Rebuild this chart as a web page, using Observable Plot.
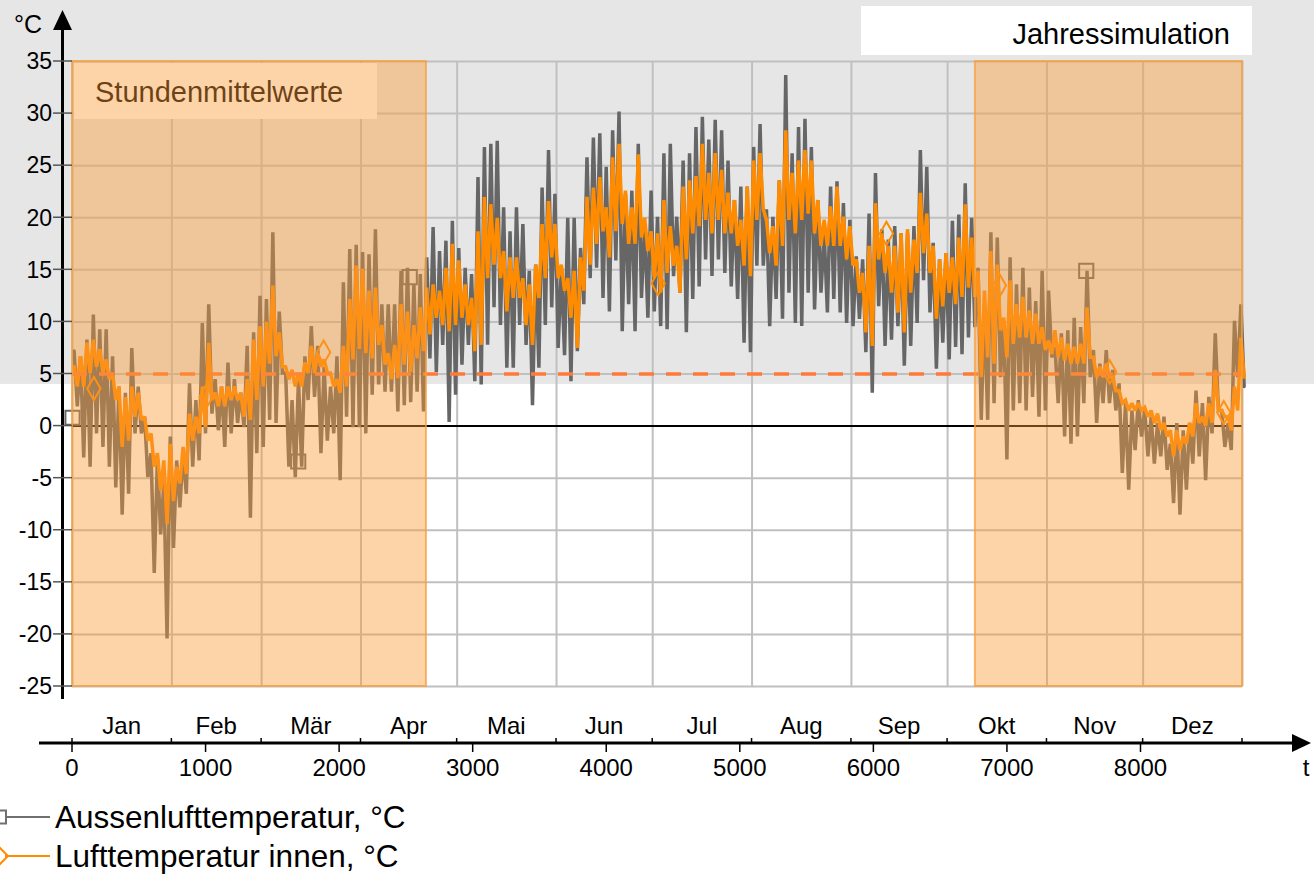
<!DOCTYPE html>
<html><head><meta charset="utf-8">
<script src="https://cdn.jsdelivr.net/npm/d3@7"></script>
<script src="https://cdn.jsdelivr.net/npm/@observablehq/plot@0.6"></script>
<style>
html,body{margin:0;padding:0;background:#fff;}
body{width:1314px;height:874px;overflow:hidden;font-family:"Liberation Sans",Arial,sans-serif;}
#chart svg,#legend svg{display:block;}
</style></head><body>
<div id="chart"></div>
<div id="legend"></div>
<script>
// ---- Daten (2-Tages-Schritte: Maximum / Minimum) ----
const schritt = 48; // Stunden je Wert-Paar
const aussenHoch = [
 7.2, 6.7, 8.3, 10.7, 9.3, 9.3, 6.7, 3.8, 3.2, 7.5,
 3.8, 0.9, -2.6, -3, -5.5, -1, -3.3, -2.6, 4.1, 2.5,
 9.9, 11.7, 4.5, 3.8, 6.1, 4.5, 3.2, 7.7, 9, 12.5,
 12.2, 18.6, 11, 5.1, 2.5, 4.5, 6.7, 9.6, 7.7, 5.7,
 3.8, 6.7, 13.8, 17, 17.4, 16.7,
 16.5, 18.9, 11.7, 11.7, 11.7, 14.9, 15.2, 13.6, 14.6, 16.2,
 19.1, 16.8, 17.8, 19.7, 17.1, 15.2, 14.6, 23.9, 26.8, 27.1,
 27.4, 21, 18.7, 21, 19.4, 14.9, 15.5, 22.9, 26.5, 22.3,
 15.2, 20, 20, 17.1, 25.8, 27.7, 28.1, 24.9, 28.4, 30.2,
 22.3, 22.6, 27.1, 19.4, 22.6,
 20.1, 26.2, 27.1, 20.1, 25.5, 26.2, 28.7, 29.7, 27.5, 29.4,
 28.4, 25.5, 21.7, 23, 23, 26.8, 29, 20.8, 20.1, 23.6,
 33.7, 26.2, 28.7, 29.5, 26.8, 21.7, 18.5, 23, 23.5, 21.4,
 19.8, 16.3, 16, 20.4, 24.3, 18.9, 17.9, 19.2, 18.5, 18.5,
 19.2, 26.5, 24.9, 17.6, 16, 16.6,
 19.7, 20.3, 23.3, 20, 15.2, 11.7, 18.6, 18.1, 10.1, 16.2,
 13.6, 15.2, 13.3, 12, 14.9, 13, 7.6, 8.9, 9.2, 10.4,
 9.5, 14.9, 7.3, 6, 7.3, 5.4, 4.1, 2.2, 1.5, 2.5,
 1.5, 0.9, 0.3, 0.9, -1.7, 0.3, -0.4, 0.3, 3.4, 2.2,
 2.8, 8.9, 1.5, 0.3, 10.1, 11.7
];
const aussenTief = [
 1.9, -3, -3.9, -0.7, -2, -3.9, -5.9, -8.5, -6.5, -0.7,
 -0.7, -4.9, -14.1, -10.4, -20.4, -11.7, -7.8, -6.5, -3.9, -3.3,
 -0.7, 1.2, -0.4, -2, -0.7, 0.3, -0.1, -8.8, -2.6, -2,
 0.6, 0.3, 5.1, -3.9, -4.9, -3.9, 2.5, 2.8, -2.6, -1.4,
 -0.7, -5.2, 0.9, -0.1, -0.1, -0.7,
 3, 4, 3.3, 3.3, 1.4, 2, 2.3, 3.3, 1.4, 6.5,
 5.2, 7.8, 0.4, 3, 5.9, 7.8, 4.3, 4, 7.8, 11.4,
 9.7, 5.6, 5.6, 9.7, 7.8, 2, 5.6, 9.7, 11.4, 7.5,
 6.8, 4.3, 7.2, 11.7, 14.2, 15.2, 12.3, 11, 15.9, 9.1,
 11.7, 9.1, 12.3, 10.4, 11,
 9.6, 9.3, 14.4, 12.8, 9, 12.2, 13.4, 16, 14.4, 16,
 14.7, 13.4, 12.2, 8, 7.1, 15.4, 15.4, 9.6, 12.2, 10.3,
 12.8, 9.9, 9.6, 12.8, 11.2, 12.8, 10.9, 12.2, 10.9, 9.9,
 9.6, 10.3, 7.1, 3.2, 11.5, 7.7, 8.3, 9.6, 5.8, 7.7,
 9.9, 14, 10.9, 5.5, 8, 6.4,
 7.6, 6.9, 8.5, 9.5, 0.6, 0.6, 2.2, 4.7, -3.2, 1.5,
 2.2, 1.5, 2.8, 0.9, 1.5, 6.6, 2.2, -1, -1.7, -1,
 2.2, 4.7, 0.3, 2.2, 2.2, 1.5, -4.5, -6.1, -2.3, -1,
 -2.9, -3.6, -2.9, -4.2, -7.4, -8.5, -6.1, -3.6, -2.9, -5.2,
 -0.7, 1.5, -2, -2.3, 4.7, 3.8
];
const innenHoch = [
 5.7, 6.7, 8, 8.3, 7.4, 6.4, 5.1, 3.8, 2.8, 3.8,
 3.2, 0.9, -0.7, -2.6, -3.3, -1.7, -3.9, -2, 1.2, 0.9,
 3.8, 8, 3.2, 3.8, 3.8, 3.8, 3.2, 4.5, 8.3, 9.6,
 10, 13.5, 9, 5.7, 5.4, 5.1, 6.1, 7.7, 7, 6.4,
 5.1, 4.5, 7.7, 12.2, 15.4, 15.1,
 13, 13.3, 9.7, 7, 7.8, 11.7, 11, 9.7, 11.4, 13.3,
 13.6, 13, 15.2, 17.5, 15.9, 13.6, 12.3, 18.7, 22, 21.3,
 20, 16.8, 16.2, 16.2, 14.2, 13.6, 15.5, 19.4, 21.6, 19.4,
 15.5, 14.2, 14.9, 16.2, 22, 22.9, 23.9, 21, 25.8, 27.1,
 22.6, 21, 26.1, 20, 18.7,
 18.5, 21.7, 19.2, 17.3, 23, 23.6, 24, 27.1, 24.3, 26.2,
 24.6, 22.4, 21.7, 19.8, 23, 25.5, 26.2, 19.8, 19.2, 23.6,
 28.4, 24.3, 25.5, 26.5, 25.5, 21.7, 19.8, 21.1, 23, 20.1,
 19.2, 16, 14.7, 17.3, 21.4, 18.5, 17.3, 17.3, 18.5, 18.9,
 17.9, 22.4, 20.4, 17.3, 16, 16.6,
 16.2, 18.1, 21.3, 18.1, 14.9, 13, 16.8, 15.5, 10.4, 14,
 11.7, 12.4, 11.1, 10.8, 9.5, 8.2, 9.2, 8.5, 7.9, 7.6,
 7.9, 11.4, 6.6, 5.7, 6, 4.7, 3.4, 2.5, 2.2, 2.2,
 1.8, 1.5, 1.2, 0.3, -0.4, -0.4, -1, 0.3, 2.2, 0.9,
 2.2, 5.4, 1.5, 0.9, 3.8, 8.5
];
const innenTief = [
 3.8, 3.8, 5.1, 5.7, 5.1, 4.5, 2.5, -2, -1.4, 0.9,
 0.6, -1.4, -3.9, -6.2, -9.4, -7.2, -5.5, -4.6, -1.4, -0.7,
 -0.1, 2.5, 1.9, 1.9, 2.5, 2.5, 0.9, 0.6, 2.5, 3.8,
 6, 6.7, 5.7, 4.5, 3.8, 3.8, 5.1, 5.1, 5.7, 5.1,
 3.8, 3.2, 3.8, 6.4, 7.4, 7,
 6.5, 7.8, 5.9, 4.5, 4.6, 5.9, 5.2, 6.5, 7.2, 8.8,
 10.4, 9.7, 9.1, 9.7, 10.4, 9.7, 7.2, 7.8, 14.2, 15.5,
 14.2, 11, 12.3, 12.3, 9.7, 7.8, 12.3, 14.2, 16.2, 14.2,
 13, 10.4, 7.5, 13, 15.5, 17.5, 18.7, 16.2, 18.7, 19.4,
 17.5, 17.5, 18.1, 16.8, 14.2,
 12.8, 14.7, 15.4, 12.8, 16, 18.5, 19.2, 19.8, 18.5, 19.8,
 18.5, 18.5, 17.3, 15.4, 14.4, 19.8, 20.8, 16.6, 15.4, 17.3,
 19.8, 18.5, 19.8, 20.4, 18.5, 17.3, 17.3, 17.3, 17.3, 16,
 15.4, 12.8, 9, 7.7, 16, 14.7, 12.8, 10.9, 9, 12.8,
 14.7, 16.6, 14.7, 10.3, 11.5, 12.8,
 11.7, 12.4, 13.3, 12.4, 4.7, 6.6, 6, 9.2, 6.6, 7.9,
 8.5, 8.5, 7.9, 7.9, 7.3, 6.9, 6.6, 6.3, 6, 6,
 6, 6.6, 4.7, 4.7, 4.7, 3.4, 2.2, 1.5, 1.5, 1.5,
 0.9, 0.3, -0.4, -1, -2.9, -2.3, -1.7, -1, 0.3, 0,
 0.3, 1.5, 0.9, -0.4, 1.5, 4.7
];
// Markierungen der Reihen
const aussenMarkerT = [0, 1690, 2525, 7590];
const aussenMarkerW = [0.8, -3.4, 14.3, 14.9];
const innenMarkerT = [160, 1000, 1880, 4385, 6094, 6940, 7766, 8620];
const innenMarkerW = [3.6, 2.8, 7.1, 13.7, 18.5, 13.5, 5.2, 1.3];
// Achsen / Kategorien
const monate = ["Jan","Feb","Mär","Apr","Mai","Jun","Jul","Aug","Sep","Okt","Nov","Dez"];
const monatsGrenzen = [0,744,1416,2160,2880,3624,4344,5088,5832,6552,7296,8016,8760];
const xTicks = [0,1000,2000,3000,4000,5000,6000,7000,8000];
const yTicks = [-25,-20,-15,-10,-5,0,5,10,15,20,25,30,35];
const heizVon = [0, 6760];
const heizBis = [2650, 8760];
const sollwert = 5;
const grauGrenze = 4;
const titelRechts = "Jahressimulation";
const titelLinks = "Stundenmittelwerte";
const legendeNamen = ["Aussenlufttemperatur, °C", "Lufttemperatur innen, °C"];

// ---- Aufbereitung ----
const reihe = (hi, lo) => hi.flatMap((h, i) => [
  {t: i*schritt + schritt/4, T: h},
  {t: i*schritt + 3*schritt/4, T: lo[i]}
]);
const aussen = reihe(aussenHoch, aussenTief);
const innen = reihe(innenHoch, innenTief);
const aussenMarker = aussenMarkerT.map((t,i)=>({t, T: aussenMarkerW[i]}));
const innenMarker = innenMarkerT.map((t,i)=>({t, T: innenMarkerW[i]}));
const heiz = heizVon.map((v,i)=>({von: v, bis: heizBis[i]}));
const monatsMitte = monate.map((m,i)=>({name: m, t: (monatsGrenzen[i]+monatsGrenzen[i+1])/2}));
const yMin = yTicks[0], yMax = yTicks[yTicks.length-1];
const xMax = monatsGrenzen[monatsGrenzen.length-1];

const FONT = "'Liberation Sans', Arial, sans-serif";
const GRAU = "#666666", ORANGE = "#ff8c00";

function skalen(scales, dim) {
  const x = (scales && typeof scales.x === "function") ? scales.x :
    d3.scaleLinear([0, xMax], [dim.marginLeft, dim.width - dim.marginRight]);
  const y = (scales && typeof scales.y === "function") ? scales.y :
    d3.scaleLinear([yMin, yMax], [dim.height - dim.marginBottom, dim.marginTop]);
  return {x, y};
}

function hintergrund(index, scales, values, dim) {
  const {y} = skalen(scales, dim);
  const g = d3.create("svg:g");
  g.append("rect").attr("x", 0).attr("y", 0).attr("width", dim.width)
    .attr("height", y(grauGrenze)).attr("fill", "#e6e6e6");
  const bx2 = dim.width - 62;
  g.append("rect").attr("x", bx2 - 391).attr("y", 6).attr("width", 391).attr("height", 49).attr("fill", "#fff");
  g.append("text").attr("x", bx2 - 22).attr("y", 44).attr("text-anchor", "end")
    .attr("font-size", 29).attr("font-family", FONT).attr("fill", "#000").text(titelRechts);
  return g.node();
}

function stundenBox(index, scales, values, dim) {
  const g = d3.create("svg:g");
  const x0 = dim.marginLeft + 2, y0 = dim.marginTop + 2;
  g.append("rect").attr("x", x0).attr("y", y0).attr("width", 303).attr("height", 56).attr("fill", "#fff");
  g.append("text").attr("x", x0 + 21).attr("y", y0 + 39).attr("font-size", 29).attr("text-anchor", "start")
    .attr("font-family", FONT).attr("fill", "#000").text(titelLinks);
  return g.node();
}

function achsen(index, scales, values, dim) {
  const {x, y} = skalen(scales, dim);
  const g = d3.create("svg:g").attr("font-family", FONT).attr("fill", "#000");
  const L = dim.marginLeft, B = dim.height - dim.marginBottom;
  // y-Achse
  const ax = L - 9.5;
  g.append("line").attr("x1", ax).attr("x2", ax).attr("y1", B + 13).attr("y2", 26)
    .attr("stroke", "#000").attr("stroke-width", 3);
  g.append("path").attr("d", `M${ax-9.5},30L${ax+9.5},30L${ax},10Z`).attr("fill", "#000");
  g.selectAll(".yt").data(yTicks).join("line")
    .attr("x1", L - 19).attr("x2", L).attr("y1", d => y(d)).attr("y2", d => y(d))
    .attr("stroke", "#555").attr("stroke-width", 1.5);
  g.selectAll(".yl").data(yTicks).join("text")
    .attr("x", L - 20).attr("y", d => y(d)).attr("dy", "0.36em").attr("text-anchor", "end")
    .attr("font-size", 23).text(d => String(d));
  g.append("text").attr("x", 14).attr("y", 33).attr("text-anchor", "start").attr("font-size", 25).text("°C");
  // x-Achse
  const ay = B + 57;
  g.append("line").attr("x1", 39).attr("x2", dim.width - 20).attr("y1", ay).attr("y2", ay)
    .attr("stroke", "#000").attr("stroke-width", 3);
  g.append("path").attr("d", `M${dim.width-22},${ay-9}L${dim.width-22},${ay+9}L${dim.width-3},${ay}Z`).attr("fill", "#000");
  g.selectAll(".xt").data(xTicks).join("line")
    .attr("x1", d => x(d)).attr("x2", d => x(d)).attr("y1", ay).attr("y2", ay + 9)
    .attr("stroke", "#000").attr("stroke-width", 1.5);
  g.selectAll(".xl").data(xTicks).join("text")
    .attr("x", d => x(d)).attr("y", ay + 33).attr("text-anchor", "middle")
    .attr("font-size", 24).text(d => String(d));
  g.selectAll(".mt").data(monatsGrenzen).join("line")
    .attr("x1", d => x(d)).attr("x2", d => x(d)).attr("y1", ay - 5).attr("y2", ay)
    .attr("stroke", "#000").attr("stroke-width", 1.5);
  g.selectAll(".ml").data(monatsMitte).join("text")
    .attr("x", d => x(d.t)).attr("y", ay - 9).attr("text-anchor", "middle")
    .attr("font-size", 24).text(d => d.name);
  g.append("text").attr("x", dim.width - 8).attr("y", ay + 33).attr("text-anchor", "middle")
    .attr("font-size", 24).text("t");
  return g.node();
}

const chart = Plot.plot({
  width: 1314, height: 795,
  marginLeft: 72, marginRight: 72, marginTop: 61, marginBottom: 109,
  x: {domain: [0, xMax], axis: null},
  y: {domain: [yMin, yMax], axis: null},
  style: {background: "transparent", fontFamily: FONT, overflow: "visible"},
  marks: [
    hintergrund,
    Plot.ruleX(monatsGrenzen, {x: d => d, stroke: "#c0c0c0", strokeWidth: 2}),
    Plot.ruleY(yTicks, {y: d => d, stroke: "#c0c0c0", strokeWidth: 2}),
    Plot.ruleY([0], {y: d => d, stroke: "#000", strokeWidth: 2}),
    stundenBox,
    Plot.line(aussen, {x: "t", y: "T", stroke: GRAU, strokeWidth: 3.5, strokeLinejoin: "miter", strokeMiterlimit: 2}),
    Plot.dot(aussenMarker, {x: "t", y: "T", symbol: "square", r: 8, stroke: GRAU, strokeWidth: 2, fill: "none"}),
    Plot.line(innen, {x: "t", y: "T", stroke: ORANGE, strokeWidth: 3.5, strokeLinejoin: "miter", strokeMiterlimit: 2}),
    Plot.dot(innenMarker, {x: "t", y: "T", symbol: "diamond", r: 7, stroke: ORANGE, strokeWidth: 2, fill: "none"}),
    Plot.ruleY([sollwert], {y: d => d, stroke: "#ff7a38", strokeWidth: 3.5, strokeDasharray: "15 12"}),
    Plot.rect(heiz, {x1: "von", x2: "bis", y1: () => yMin, y2: () => yMax,
      fill: "rgb(250,153,53)", fillOpacity: 0.43, stroke: "rgb(245,160,60)", strokeOpacity: 0.75, strokeWidth: 2}),
    achsen
  ]
});
document.getElementById("chart").appendChild(chart);

// ---- Legende ----
const leg = d3.select("#legend").append("svg").attr("width", 1314).attr("height", 79)
  .attr("font-family", FONT);
const farben = ["#707070", ORANGE];
const zeilenY = [22, 61];
legendeNamen.forEach((name, i) => {
  const yy = zeilenY[i];
  leg.append("line").attr("x1", 5).attr("x2", 50).attr("y1", yy).attr("y2", yy)
    .attr("stroke", farben[i]).attr("stroke-width", 2);
  if (i === 0) {
    leg.append("rect").attr("x", -7).attr("y", yy - 6.5).attr("width", 13).attr("height", 13)
      .attr("fill", "none").attr("stroke", farben[i]).attr("stroke-width", 2);
  } else {
    leg.append("path").attr("d", `M-8,${yy}L0,${yy-8}L8,${yy}L0,${yy+8}Z`)
      .attr("fill", "none").attr("stroke", farben[i]).attr("stroke-width", 2);
  }
  leg.append("text").attr("x", 55).attr("y", yy + 11).attr("font-size", 31.5).attr("fill", "#000").text(name);
});
</script>
</body></html>
